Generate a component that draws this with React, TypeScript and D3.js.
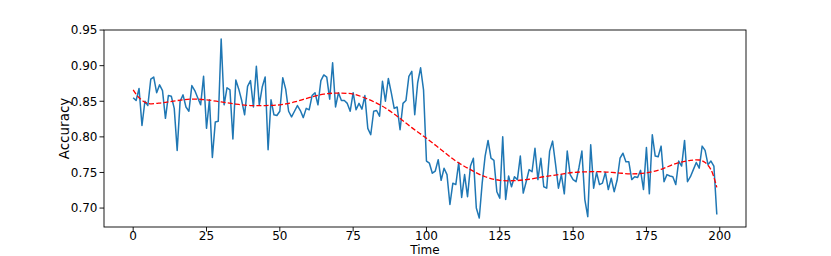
import React from "react";
import * as d3 from "d3";

// accuracy per time step
const accuracy = [
  0.855, 0.851, 0.868, 0.816, 0.85, 0.844, 0.881, 0.884, 0.862, 0.873,
  0.865, 0.826, 0.858, 0.857, 0.84, 0.781, 0.85, 0.859, 0.842, 0.836,
  0.872, 0.865, 0.855, 0.845, 0.885, 0.812, 0.852, 0.771, 0.821, 0.822,
  0.9375, 0.845, 0.869, 0.866, 0.797, 0.88, 0.867, 0.851, 0.831, 0.871,
  0.879, 0.842, 0.899, 0.845, 0.87, 0.884, 0.782, 0.852, 0.831, 0.83,
  0.836, 0.883, 0.867, 0.836, 0.828, 0.836, 0.844, 0.837, 0.827, 0.84,
  0.838, 0.858, 0.862, 0.845, 0.879, 0.887, 0.884, 0.853, 0.904, 0.842,
  0.862, 0.851, 0.851, 0.847, 0.836, 0.862, 0.838, 0.847, 0.839, 0.858,
  0.812, 0.803, 0.836, 0.837, 0.829, 0.878, 0.85, 0.882, 0.862, 0.84,
  0.842, 0.81, 0.847, 0.851, 0.885, 0.892, 0.831, 0.876, 0.897, 0.866,
  0.766, 0.763, 0.749, 0.752, 0.768, 0.739, 0.756, 0.747, 0.705, 0.735,
  0.733, 0.764, 0.715, 0.747, 0.716, 0.759, 0.77, 0.7, 0.686, 0.735,
  0.773, 0.795, 0.77, 0.767, 0.723, 0.714, 0.8, 0.712, 0.745, 0.73,
  0.744, 0.74, 0.773, 0.721, 0.737, 0.754, 0.751, 0.784, 0.74, 0.77,
  0.73, 0.728, 0.78, 0.794, 0.762, 0.728, 0.747, 0.72, 0.78, 0.747,
  0.74, 0.737, 0.757, 0.78, 0.712, 0.688, 0.789, 0.728, 0.75, 0.733,
  0.735, 0.75, 0.726, 0.742, 0.723, 0.739, 0.77, 0.777, 0.765, 0.765,
  0.74, 0.744, 0.743, 0.753, 0.726, 0.785, 0.72, 0.803, 0.773, 0.772,
  0.787, 0.737, 0.747, 0.745, 0.744, 0.733, 0.766, 0.759, 0.795, 0.737,
  0.744, 0.754, 0.764, 0.756, 0.787, 0.781, 0.761, 0.766, 0.759, 0.691,
];

// red dashed trend
const trendT = [
  0, 2, 5, 10, 15, 20, 25, 30, 35, 40, 45, 50, 55, 60, 65, 70, 75, 80, 85, 90,
  95, 100, 105, 110, 115, 120, 125, 130, 135, 140, 145, 150, 155, 160, 165,
  170, 175, 180, 185, 190, 193, 195, 197, 199,
];
const trendY = [
  0.866, 0.855, 0.847, 0.848, 0.851, 0.853, 0.852, 0.849, 0.846, 0.844, 0.844,
  0.845, 0.849, 0.855, 0.86, 0.8615, 0.86, 0.853, 0.843, 0.829, 0.813, 0.798,
  0.782, 0.766, 0.754, 0.744, 0.739, 0.7385, 0.7405, 0.744, 0.747, 0.75,
  0.751, 0.751, 0.7495, 0.748, 0.7495, 0.7545, 0.7625, 0.767, 0.7675, 0.764,
  0.754, 0.729,
];

const xTicks = [0, 25, 50, 75, 100, 125, 150, 175, 200];
const yTicks = [0.7, 0.75, 0.8, 0.85, 0.9, 0.95];

const W = 831;
const H = 256;
const left = 104;
const right = 746;
const top = 30;
const bottom = 227;
const font = "DejaVu Sans, sans-serif";

export default function App() {
  const n = accuracy.length;
  const xPad = (n - 1) * 0.05;
  const x = d3
    .scaleLinear()
    .domain([-xPad, n - 1 + xPad])
    .range([left, right]);

  const [lo, hi] = d3.extent(accuracy) as [number, number];
  const yPad = (hi - lo) * 0.05;
  const y = d3
    .scaleLinear()
    .domain([lo - yPad, hi + yPad])
    .range([bottom, top]);

  const line = d3
    .line<number>()
    .x((d, i) => x(i))
    .y((d) => y(d));

  const trend = d3
    .line<number>()
    .x((d, i) => x(trendT[i]))
    .y((d) => y(d))
    .curve(d3.curveCatmullRom);

  return (
    <svg
      width={W}
      height={H}
      style={{ position: "absolute", left: 0, top: 0, background: "#fff" }}
      fontFamily={font}
    >
      <rect x={0} y={0} width={W} height={H} fill="#fff" />
      <path
        d={line(accuracy) || ""}
        fill="none"
        stroke="#1f77b4"
        strokeWidth={1.5}
        strokeLinejoin="round"
      />
      <path
        d={trend(trendY) || ""}
        fill="none"
        stroke="#ff0000"
        strokeWidth={1.3}
        strokeDasharray="5,2.2"
      />

      {/* spines */}
      <rect
        x={left}
        y={top}
        width={right - left}
        height={bottom - top}
        fill="none"
        stroke="#000"
        strokeWidth={0.9}
      />

      {/* x axis */}
      {xTicks.map((t) => (
        <g key={"x" + t} transform={`translate(${x(t)},${bottom})`}>
          <line y2={4.5} stroke="#000" strokeWidth={0.9} />
          <text y={3.5} dy="0.76em" textAnchor="middle" fontSize={12} fill="#000">
            {t}
          </text>
        </g>
      ))}
      <text
        x={(left + right) / 2}
        y={254}
        textAnchor="middle"
        fontSize={12}
        fill="#000"
      >
        Time
      </text>

      {/* y axis */}
      {yTicks.map((t) => (
        <g key={"y" + t} transform={`translate(${left},${y(t)})`}>
          <line x2={-4.5} stroke="#000" strokeWidth={0.9} />
          <text
            x={-6.5}
            dy="0.36em"
            textAnchor="end"
            fontSize={12}
            fill="#000"
          >
            {t.toFixed(2)}
          </text>
        </g>
      ))}
      <text
        transform={`translate(69,${(top + bottom) / 2}) rotate(-90)`}
        textAnchor="middle"
        fontSize={13.5}
        fill="#000"
      >
        Accuracy
      </text>
    </svg>
  );
}
